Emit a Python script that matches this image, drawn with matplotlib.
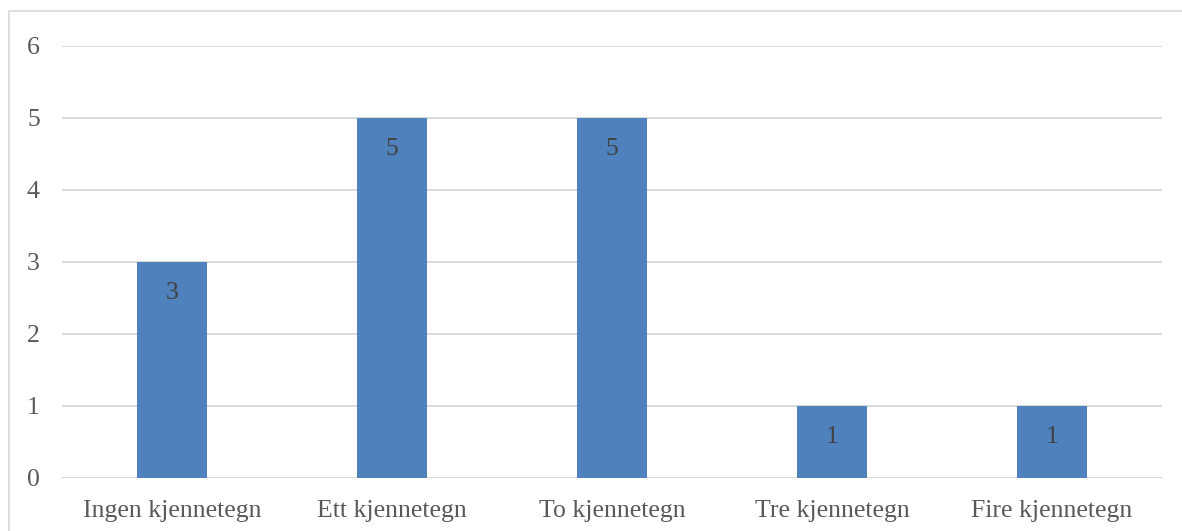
import matplotlib
matplotlib.use("Agg")
import matplotlib.pyplot as plt
from matplotlib.patches import Rectangle

categories = ["Ingen kjennetegn", "Ett kjennetegn", "To kjennetegn", "Tre kjennetegn", "Fire kjennetegn"]
values = [3, 5, 5, 1, 1]
yticks = [0, 1, 2, 3, 4, 5, 6]

W, H = 1182, 531
fig = plt.figure(figsize=(W / 100, H / 100), dpi=100)
ax = fig.add_axes([62 / W, 1 - 478 / H, 1100 / W, 432 / H])

x = list(range(len(categories)))
ax.bar(x, values, width=0.314, color="#4f81bd", zorder=3)
ax.set_xlim(-0.5, len(categories) - 0.5)
ax.set_ylim(0, 6)
ax.set_yticks(yticks)
ax.set_xticks(x)
ax.set_xticklabels(categories)
ax.yaxis.grid(True, color="#d9d9d9", linewidth=1.4, zorder=0)
ax.set_axisbelow(True)
for s in ["top", "right", "left", "bottom"]:
    ax.spines[s].set_visible(False)
ax.tick_params(axis="both", length=0, labelsize=18.5, colors="#595959")
ax.tick_params(axis="y", pad=16)
ax.tick_params(axis="x", pad=16)
for lab in ax.get_xticklabels() + ax.get_yticklabels():
    lab.set_fontfamily("Liberation Serif")

for xi, v in zip(x, values):
    ax.annotate(str(v), (xi, v), xytext=(0, -22), textcoords="offset points",
                ha="center", va="center", fontsize=18.5, color="#404040",
                family="Liberation Serif")

fig.patches.append(Rectangle((9 / W, -0.1), 1.2, 1 - 11 / H + 0.1, transform=fig.transFigure,
                             fill=False, edgecolor="#d9d9d9", linewidth=1.2))

fig.savefig("out.png", dpi=100)
